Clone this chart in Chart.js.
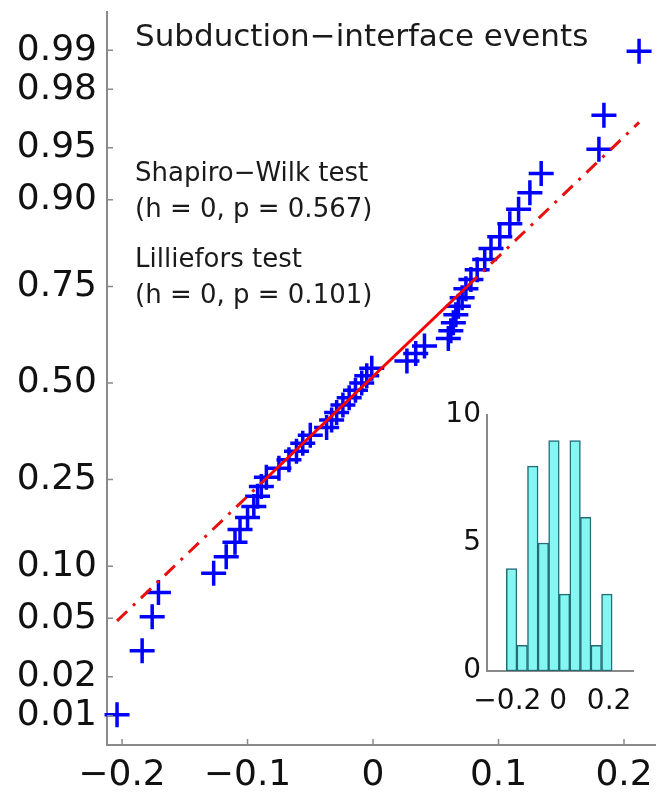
<!DOCTYPE html>
<html>
<head>
<meta charset="utf-8">
<script src="https://cdn.jsdelivr.net/npm/chart.js@4.4.0/dist/chart.umd.min.js"></script>
<style>
  body { margin: 0; background: #fff; }
  #wrap { position: relative; width: 657px; height: 801px; }
  #qq { position: absolute; left: 0; top: 0; }
  #hist { position: absolute; left: 420px; top: 390px; }
</style>
</head>
<body>
<div id="wrap">
  <canvas id="qq" width="657" height="801"></canvas>
  <canvas id="hist" width="237" height="340"></canvas>
</div>
<script>
// sorted event residuals (normal probability plot)
const residuals = [
  -0.204, -0.184, -0.176, -0.171, -0.127,
  -0.117, -0.110, -0.106, -0.100, -0.095, -0.092, -0.089, -0.085,
  -0.075, -0.067, -0.061, -0.056, -0.050,
  -0.037, -0.033, -0.029, -0.024, -0.019, -0.014, -0.009, -0.005, -0.001,
  0.027, 0.034, 0.041,
  0.060, 0.062, 0.064, 0.066, 0.068, 0.071, 0.074, 0.078, 0.083,
  0.089, 0.094, 0.101, 0.109, 0.116, 0.125,
  0.134,
  0.180, 0.184, 0.212
];

const probTicks = [0.01, 0.02, 0.05, 0.10, 0.25, 0.50, 0.75, 0.90, 0.95, 0.98, 0.99];
const probTickLabels = ['0.01', '0.02', '0.05', '0.10', '0.25', '0.50', '0.75', '0.90', '0.95', '0.98', '0.99'];
const xTicks = [-0.2, -0.1, 0, 0.1, 0.2];
const xTickLabels = ['\u22120.2', '\u22120.1', '0', '0.1', '0.2'];

const histBinCount = 10;
const histXTicks = [-0.2, 0, 0.2];
const histXTickLabels = ['\u22120.2', '0', '0.2'];
const histYTicks = [0, 5, 10];

const titleText = 'Subduction\u2212interface events';
const testLines = [
  'Shapiro\u2212Wilk test',
  '(h = 0, p = 0.567)',
  'Lilliefors test',
  '(h = 0, p = 0.101)'
];

const axisColor = '#8a8a8a';
const textColor = '#111';
Chart.defaults.font.family = '"DejaVu Sans", sans-serif';
Chart.defaults.color = textColor;

// inverse normal CDF (Acklam)
function norminv(p) {
  const a = [-3.969683028665376e+01, 2.209460984245205e+02, -2.759285104469687e+02, 1.383577518672690e+02, -3.066479806614716e+01, 2.506628277459239e+00];
  const b = [-5.447609879822406e+01, 1.615858368580409e+02, -1.556989798598866e+02, 6.680131188771972e+01, -1.328068155288572e+01];
  const c = [-7.784894002430293e-03, -3.223964580411365e-01, -2.400758277161838e+00, -2.549732539343734e+00, 4.374664141464968e+00, 2.938163982698783e+00];
  const d = [7.784695709041462e-03, 3.224671290700398e-01, 2.445134137142996e+00, 3.754408661907416e+00];
  const plow = 0.02425;
  if (p < plow) {
    const q = Math.sqrt(-2 * Math.log(p));
    return (((((c[0]*q+c[1])*q+c[2])*q+c[3])*q+c[4])*q+c[5]) / ((((d[0]*q+d[1])*q+d[2])*q+d[3])*q+1);
  }
  if (p > 1 - plow) {
    const q = Math.sqrt(-2 * Math.log(1 - p));
    return -(((((c[0]*q+c[1])*q+c[2])*q+c[3])*q+c[4])*q+c[5]) / ((((d[0]*q+d[1])*q+d[2])*q+d[3])*q+1);
  }
  const q = p - 0.5, r = q * q;
  return (((((a[0]*r+a[1])*r+a[2])*r+a[3])*r+a[4])*r+a[5])*q / (((((b[0]*r+b[1])*r+b[2])*r+b[3])*r+b[4])*r+1);
}

// percentile with (i-0.5)/n plotting positions
function prctile(sorted, p) {
  const n = sorted.length;
  const pos = p * n + 0.5;
  if (pos <= 1) return sorted[0];
  if (pos >= n) return sorted[n - 1];
  const i = Math.floor(pos);
  return sorted[i - 1] + (pos - i) * (sorted[i] - sorted[i - 1]);
}

const n = residuals.length;
const points = residuals.map((v, i) => ({ x: v, y: norminv((i + 0.5) / n) }));

// reference line through the quartiles
const q1 = prctile(residuals, 0.25);
const q3 = prctile(residuals, 0.75);
const z1 = norminv(0.25), z3 = norminv(0.75);
const lineAt = x => z1 + (x - q1) * (z3 - z1) / (q3 - q1);
const xMin = residuals[0], xMax = residuals[n - 1];
const fitSolid = [{ x: q1, y: z1 }, { x: q3, y: z3 }];
const fitLow = [{ x: xMin, y: lineAt(xMin) }, { x: q1, y: z1 }];
const fitHigh = [{ x: q3, y: z3 }, { x: xMax, y: lineAt(xMax) }];

// histogram, 10 equal bins between min and max
const binWidth = (xMax - xMin) / histBinCount;
const counts = new Array(histBinCount).fill(0);
residuals.forEach(v => {
  counts[Math.min(histBinCount - 1, Math.floor((v - xMin) / binWidth))] += 1;
});
const histData = counts.map((c, k) => ({ x: xMin + (k + 0.5) * binWidth, y: c }));

const inwardTicks = {
  id: 'inwardTicks',
  afterDraw(chart) {
    const { ctx, chartArea, scales } = chart;
    ctx.save();
    ctx.strokeStyle = axisColor;
    ctx.lineWidth = 1.5;
    ctx.beginPath();
    scales.y.ticks.forEach(t => {
      const py = scales.y.getPixelForValue(t.value);
      ctx.moveTo(chartArea.left, py);
      ctx.lineTo(chartArea.left + 6, py);
    });
    scales.x.ticks.forEach(t => {
      const px = scales.x.getPixelForValue(t.value);
      ctx.moveTo(px, chartArea.bottom);
      ctx.lineTo(px, chartArea.bottom - 6);
    });
    ctx.stroke();
    ctx.restore();
  }
};

const annotations = {
  id: 'annotations',
  afterDraw(chart) {
    const ctx = chart.ctx;
    ctx.save();
    ctx.fillStyle = '#1a1a1a';
    ctx.textAlign = 'left';
    ctx.textBaseline = 'alphabetic';
    ctx.font = '31px "DejaVu Sans"';
    ctx.fillText(titleText, 135, 46);
    ctx.font = '26px "DejaVu Sans"';
    const baselines = [181, 217, 267, 303];
    testLines.forEach((s, i) => ctx.fillText(s, 135, baselines[i]));
    ctx.restore();
  }
};

const hiddenGrid = { display: false, drawTicks: false, tickLength: 0 };

new Chart(document.getElementById('qq'), {
  type: 'scatter',
  data: {
    datasets: [
      { data: fitSolid, showLine: true, borderColor: '#ff0000', borderWidth: 3, pointRadius: 0 },
      { data: fitLow, showLine: true, borderColor: '#e8100c', borderWidth: 3, borderDash: [14, 8, 3, 8], pointRadius: 0 },
      { data: fitHigh, showLine: true, borderColor: '#e8100c', borderWidth: 3, borderDash: [14, 8, 3, 8], pointRadius: 0 },
      {
        data: points, showLine: false, pointStyle: 'cross', pointRadius: 12.5,
        pointBorderColor: '#0000ff', pointBorderWidth: 3.5, borderColor: '#0000ff', clip: false
      }
    ]
  },
  options: {
    responsive: false,
    animation: false,
    events: [],
    layout: { autoPadding: false, padding: { top: 12, right: 2, left: 0, bottom: 0 } },
    plugins: { legend: { display: false }, tooltip: { enabled: false } },
    scales: {
      x: {
        type: 'linear', min: -0.212, max: 0.2247,
        grid: hiddenGrid,
        border: { color: axisColor, width: 2 },
        afterBuildTicks: s => { s.ticks = xTicks.map(v => ({ value: v })); },
        ticks: { callback: (v, i) => xTickLabels[i], padding: 9, font: { size: 36 }, maxRotation: 0, autoSkip: false },
        afterFit: s => { s.height = 56; s.paddingLeft = 0; s.paddingRight = 0; }
      },
      y: {
        type: 'linear', min: -2.531, max: 2.594,
        grid: hiddenGrid,
        border: { color: axisColor, width: 2 },
        afterBuildTicks: s => { s.ticks = probTicks.map(p => ({ value: norminv(p) })); },
        ticks: { callback: (v, i) => probTickLabels[i], padding: 10, font: { size: 36 }, autoSkip: false },
        afterFit: s => { s.width = 107; s.paddingTop = 0; s.paddingBottom = 0; }
      }
    }
  },
  plugins: [inwardTicks, annotations]
});

new Chart(document.getElementById('hist'), {
  type: 'bar',
  data: {
    datasets: [{
      data: histData,
      backgroundColor: '#84f7f2',
      borderColor: '#246c78',
      borderWidth: 1.5,
      borderSkipped: false,
      barPercentage: 1,
      categoryPercentage: 1
    }]
  },
  options: {
    responsive: false,
    animation: false,
    events: [],
    layout: { autoPadding: false, padding: { top: 25, right: 24, left: 0, bottom: 0 } },
    plugins: { legend: { display: false }, tooltip: { enabled: false } },
    scales: {
      x: {
        type: 'linear', min: -0.28, max: 0.294, offset: false,
        grid: hiddenGrid,
        border: { color: axisColor, width: 2 },
        afterBuildTicks: s => { s.ticks = histXTicks.map(v => ({ value: v })); },
        ticks: { callback: (v, i) => histXTickLabels[i], padding: 14, font: { size: 28 }, maxRotation: 0, autoSkip: false },
        afterFit: s => { s.height = 59; s.paddingLeft = 0; s.paddingRight = 0; }
      },
      y: {
        min: 0, max: 10,
        grid: hiddenGrid,
        border: { color: axisColor, width: 2 },
        afterBuildTicks: s => { s.ticks = histYTicks.map(v => ({ value: v })); },
        ticks: { padding: 6, font: { size: 28 }, autoSkip: false },
        afterFit: s => { s.width = 67; s.paddingTop = 0; s.paddingBottom = 0; }
      }
    }
  }
});
</script>
</body>
</html>
